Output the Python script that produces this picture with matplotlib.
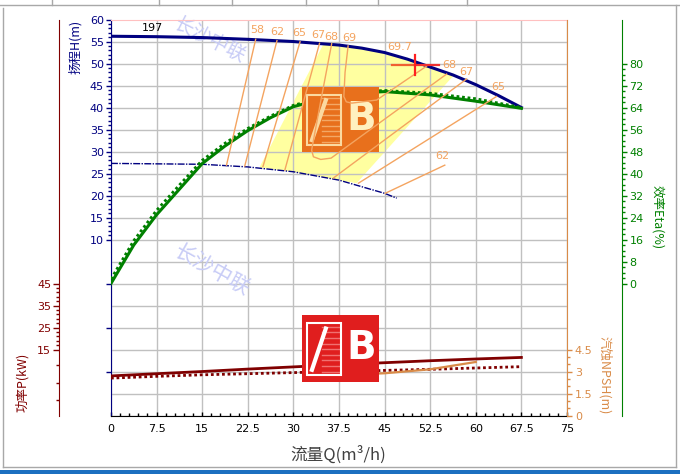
import numpy as np
import matplotlib
matplotlib.use('Agg')
import matplotlib.pyplot as plt
from matplotlib.patches import Rectangle, Polygon
from matplotlib.lines import Line2D

# ---- data ----
q = [0, 7.5, 15, 22.5, 30, 37.5, 45, 52.5, 60, 67.5]

q_head = [0, 7.5, 15, 22.5, 30, 37.5, 41.25, 45, 48.75, 52.5, 56.25, 60, 63.75, 67.5]
head = [56.2, 56.1, 55.9, 55.5, 55.0, 54.2, 53.5, 52.5, 51.0, 49.2, 47.4, 45.2, 42.7, 40.0]

q_head_small = [0, 7.5, 15, 22.5, 30, 37.5, 45, 47]
head_small = [27.3, 27.2, 27.1, 26.5, 25.4, 23.5, 20.5, 19.4]

q_eta = [0, 3.75, 7.5, 11.25, 15, 18.75, 22.5, 26.25, 30, 37.5, 45, 52.5, 60, 67.5]
eta = [0, 14.0, 25.0, 34.3, 43.6, 50.0, 55.6, 60.3, 64.3, 68.8, 69.8, 68.6, 66.3, 63.7]
eta_b = [1.6, 15.6, 26.6, 35.8, 44.8, 51.0, 56.4, 60.9, 64.8, 69.2, 70.2, 69.2, 67.2, 64.0]

power = [3.0, 4.0, 5.0, 6.1, 7.1, 8.1, 9.0, 9.9, 10.7, 11.4]
power_b = [2.0, 2.8, 3.5, 4.0, 4.5, 5.0, 5.5, 6.0, 6.6, 7.2]

q_npsh = [37.5, 45, 52.5, 60]
npsh = [2.75, 2.88, 3.15, 3.65]

# iso-efficiency lines on the H-Q plane
iso_q = [
    [23.8, 19.0],
    [27.3, 22.0],
    [31.1, 25.0],
    [34.3, 28.6],
    [36.3, 34.6, 33.0, 33.3, 34.5, 36.2, 55.2],
    [39.0, 38.5, 38.3, 38.7, 39.6, 43.7, 51.9],
    [36.6, 58.5],
    [40.7, 63.4],
    [45.1, 54.9],
]
iso_h = [
    [55.5, 26.9],
    [55.2, 26.7],
    [54.95, 26.6],
    [54.6, 25.8],
    [54.5, 42.2, 30.3, 28.8, 28.2, 28.5, 47.6],
    [54.0, 48.0, 42.5, 41.3, 41.0, 41.7, 49.4],
    [24.0, 46.5],
    [22.8, 42.5],
    [20.5, 26.9],
]
iso_labels = ['58', '62', '65', '67', '68', '69', '69.7', '68', '67', '65', '62']
iso_lab_q = [24.0, 27.4, 31.0, 34.1, 36.3, 39.2, 47.5, 55.6, 58.5, 63.7, 54.5]
iso_lab_h = [57.6, 57.1, 56.9, 56.5, 56.1, 55.7, 53.8, 49.7, 48.0, 44.6, 29.0]

# recommended working zone
zone_q = [24.5, 34.9, 37.5, 41.25, 45, 48.75, 52.5, 56.3, 40.4, 37.5, 30, 24.5]
zone_h = [26.6, 54.3, 54.2, 53.5, 52.5, 51.0, 49.2, 47.2, 22.8, 23.5, 25.4, 26.3]

bep_q, bep_h = 50.0, 49.7

eta_ticks = [0, 8, 16, 24, 32, 40, 48, 56, 64, 72, 80]
power_ticks = [45, 35, 25, 15]
npsh_ticks = [0, 1.5, 3, 4.5]
x_ticks = [0, 7.5, 15, 22.5, 30, 37.5, 45, 52.5, 60, 67.5, 75]


# scale conversions onto the head axis
def eta2h(v):
    return np.asarray(v, dtype=float) / 1.6


def p2h(v):
    return (np.asarray(v, dtype=float) - 45) / 2


def n2h(v):
    return np.asarray(v, dtype=float) / 0.3 - 30


cjk = ['Noto Sans CJK SC', 'DejaVu Sans']
NAVY = '#000080'
GREEN = '#008000'
MAROON = '#800000'
TAN = '#D98B48'
ISO = '#F4A460'

fig = plt.figure(figsize=(6.8, 4.74), dpi=100)
ax = fig.add_axes([0.1632, 0.1234, 0.6706, 0.8354])
ax.set_xlim(0, 75)
ax.set_ylim(-30, 60)

# grid by hand (ticks do not match grid)
for v in x_ticks:
    ax.axvline(v, color='#C0C0C0', lw=1, zorder=0.5)
for v in np.arange(-30, 60, 5):
    ax.axhline(v, color='#C0C0C0', lw=1, zorder=0.5)

ax.add_patch(Polygon(np.column_stack([zone_q, zone_h]), closed=True,
                     facecolor='#FFFFA0', edgecolor='none', zorder=0.3))

# watermarks
ax.text(16.3, 55.3, '长沙中联', rotation=-27, color='#C8CCF6', fontsize=14,
        family=cjk, ha='center', va='center', zorder=0.6)
ax.text(16.6, 3.1, '长沙中联', rotation=-29, color='#C8CCF6', fontsize=15,
        family=cjk, ha='center', va='center', zorder=0.6)

# curves
ax.plot(q_head, head, color=NAVY, lw=2.2, zorder=3)
ax.plot(q_head_small, head_small, color=NAVY, lw=1, ls=(0, (5, 1, 1, 1)), zorder=3)
ax.plot(q_eta, eta2h(eta_b), color=GREEN, lw=2, ls=(0, (1, 1)), zorder=3)
ax.plot(q_eta, eta2h(eta), color=GREEN, lw=2.2, zorder=3)
ax.plot(q, p2h(power), color=MAROON, lw=2, zorder=3)
ax.plot(q, p2h(power_b), color=MAROON, lw=2, ls=(0, (1, 1)), zorder=3)
ax.plot(q_npsh, n2h(npsh), color=TAN, lw=1.6, zorder=3)

ax.text(6.9, 58.1, '197', fontsize=8, ha='center', va='center', zorder=4)


def draw_logo(q0, q1, h0, h1, face, frame, light, bcol):
    w, h = q1 - q0, h1 - h0
    ax.add_patch(Rectangle((q0, h0), w, h, facecolor=face, edgecolor='none', zorder=5))
    fx0, fx1 = q0 + 0.063 * w, q0 + 0.516 * w
    fy0, fy1 = h0 + 0.10 * h, h0 + 0.877 * h
    ax.add_patch(Rectangle((fx0, fy0), fx1 - fx0, fy1 - fy0, facecolor='none',
                           edgecolor=frame, lw=1.5, zorder=5.2))
    for s in np.linspace(fy0 + 0.05 * h, fy1 - 0.05 * h, 9):
        ax.plot([fx0 + 0.45 * (fx1 - fx0), fx1 - 0.05 * (fx1 - fx0)], [s, s],
                color=light, lw=1, zorder=5.1)
    ax.plot([fx0 + 0.15 * (fx1 - fx0), fx0 + 0.55 * (fx1 - fx0)],
            [fy0 + 0.1 * (fy1 - fy0), fy1 - 0.1 * (fy1 - fy0)],
            color=frame, lw=3, zorder=5.3)
    ax.text(q0 + 0.78 * w, h0 + 0.50 * h, 'B', color=bcol, fontsize=28,
            fontweight='bold', ha='center', va='center', zorder=5.4)


draw_logo(31.4, 44.0, 30.0, 44.6, '#E8701C', '#FBD9A0', '#F3A865', '#FFF0C0')
draw_logo(31.4, 44.0, -22.3, -7.2, '#E01E1E', '#FFFFFF', '#F07070', '#FFFFFF')

# iso-efficiency lines and labels
for xs, ys in zip(iso_q, iso_h):
    ax.plot(xs, ys, color=ISO, lw=1, zorder=6)
for t, xv, yv in zip(iso_labels, iso_lab_q, iso_lab_h):
    ax.text(xv, yv, t, color=ISO, fontsize=8, ha='center', va='center', zorder=6)

# best efficiency point marker
ax.plot([bep_q - 3.8, bep_q], [bep_h, bep_h], color='#F06030', lw=1.6, zorder=7)
ax.plot([bep_q, bep_q + 4.0], [bep_h, bep_h], color='#F03030', lw=1.6, zorder=7)
ax.plot([bep_q, bep_q], [bep_h - 2.3, bep_h + 2.2], color='#FF2020', lw=1.6, zorder=7)

# main axes: head / flow
ax.set_xticks(x_ticks)
ax.set_xticklabels([f'{v:g}' for v in x_ticks])
ax.set_xticks(np.arange(0, 75.1, 1.5), minor=True)
h_major = [-20, -10, 0] + list(range(10, 61, 5))
ax.set_yticks(h_major)
ax.set_yticklabels([str(v) if v >= 10 else '' for v in h_major])
ax.set_yticks(np.arange(10, 61, 1), minor=True)
ax.tick_params(axis='x', which='major', direction='in', length=3, width=1,
               color='black', labelsize=8, pad=6)
ax.tick_params(axis='x', which='minor', direction='in', length=2, width=1, color='black')
ax.tick_params(axis='y', which='major', direction='out', length=3.6, width=1,
               colors=NAVY, labelsize=8, pad=1.5)
ax.tick_params(axis='y', which='minor', direction='out', length=2, width=1, color=NAVY)
ax.spines['left'].set_color(NAVY)
ax.spines['bottom'].set_color('black')
ax.spines['top'].set_color('#FFC0C0')
ax.spines['right'].set_visible(False)


def side_axis(pos, color, side):
    a = ax.twinx()
    a.set_ylim(-30, 60)
    for s in ['top', 'bottom', 'left', 'right']:
        a.spines[s].set_visible(False)
    a.spines[side].set_visible(True)
    a.spines[side].set_position(('axes', pos))
    a.spines[side].set_color(color)
    if side == 'left':
        a.yaxis.tick_left()
    else:
        a.yaxis.tick_right()
    return a


axp = side_axis(-0.1134, MAROON, 'left')
axp.set_yticks(p2h(power_ticks))
axp.set_yticklabels([str(v) for v in power_ticks])
axp.set_yticks(list(p2h(np.arange(17, 45, 2))) + [-18.6, -22.5, -26.4], minor=True)
axp.tick_params(axis='y', which='major', length=4.3, width=1, colors=MAROON, labelsize=8, pad=1.5)
axp.tick_params(axis='y', which='minor', length=2, width=1, color=MAROON)

axe = side_axis(1.12, GREEN, 'right')
axe.set_yticks(eta2h(eta_ticks))
axe.set_yticklabels([str(v) for v in eta_ticks])
axe.set_yticks(eta2h(np.arange(0, 81, 2)), minor=True)
axe.tick_params(axis='y', which='major', length=3.6, width=1, colors=GREEN, labelsize=8, pad=2)
axe.tick_params(axis='y', which='minor', length=2, width=1, color=GREEN)

axn = side_axis(1.0, TAN, 'right')
axn.set_yticks(n2h(npsh_ticks))
axn.set_yticklabels([f'{v:g}' for v in npsh_ticks])
axn.set_yticks(n2h(np.arange(0, 4.51, 0.5)), minor=True)
axn.tick_params(axis='y', which='major', length=3.6, width=1, colors=TAN, labelsize=8, pad=2)
axn.tick_params(axis='y', which='minor', length=2, width=1, color=TAN)


def px(x, y):
    return x / 680, 1 - y / 474


fig.text(*px(75, 47), '扬程H(m)', rotation=90, color=NAVY, fontsize=9,
         family=cjk, ha='center', va='center')
fig.text(*px(22, 382), '功率P(kW)', rotation=90, color=MAROON, fontsize=9,
         family=cjk, ha='center', va='center')
fig.text(*px(657, 217), '效率Eta(%)', rotation=-90, color=GREEN, fontsize=9,
         family=cjk, ha='center', va='center')
fig.text(*px(605, 375), '汽蚀NPSH(m)', rotation=-90, color=TAN, fontsize=9,
         family=cjk, ha='center', va='center')
fig.text(*px(338, 455), '流量Q(m³/h)', color='#404040', fontsize=12,
         family=cjk, ha='center', va='center')

# window frame
GRAY = '#A8A8A8'
frame_lines = [
    ([0, 680], [4.5, 4.5]),
    ([675.5, 675.5], [4.5, 467]),
    ([2.5, 2.5], [8, 467]),
    ([2.5, 675.5], [467, 467]),
]
for sx in [52, 159, 232, 306, 378, 467]:
    frame_lines.append(([sx, sx], [0, 4.5]))
for xs, ys in frame_lines:
    fig.add_artist(Line2D([x / 680 for x in xs], [1 - y / 474 for y in ys],
                          color=GRAY, lw=1, transform=fig.transFigure))
fig.add_artist(Rectangle((0, 0), 1, 4 / 474, facecolor='#1C6FC0', edgecolor='none',
                         transform=fig.transFigure))

fig.savefig('out.png', dpi=100, facecolor='white')
